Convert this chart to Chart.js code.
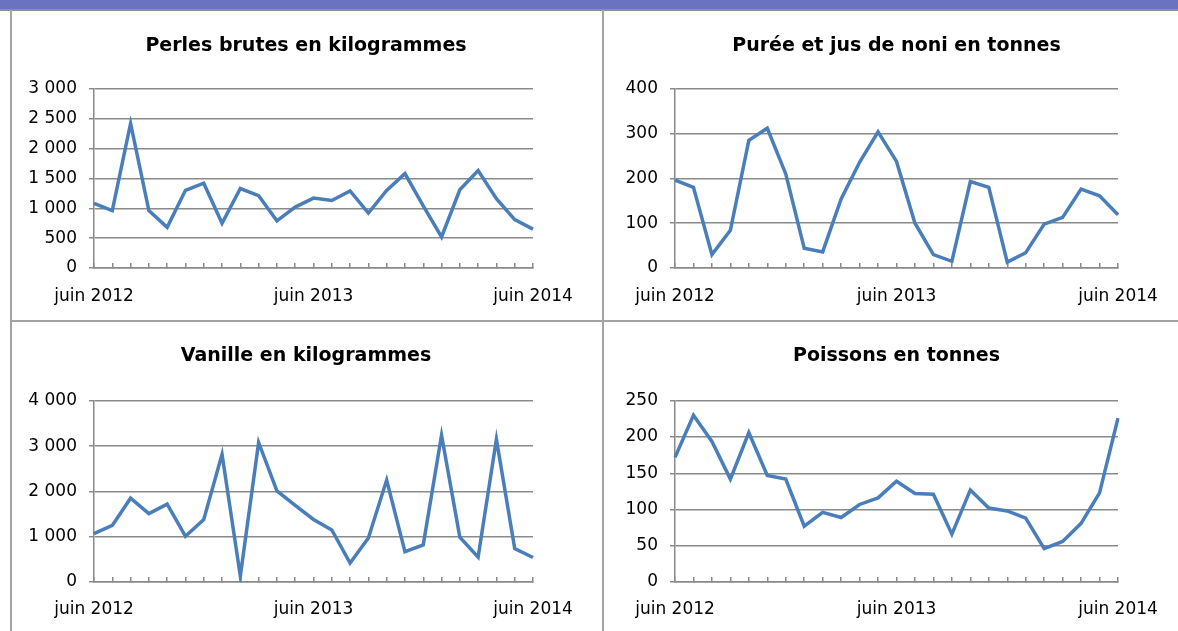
<!DOCTYPE html>
<html lang="fr">
<head>
<meta charset="UTF-8">
<title>Exportations</title>
<script src="https://cdn.jsdelivr.net/npm/chart.js"></script>
<style>
  body { margin: 0; background: #ffffff; font-family: "DejaVu Sans", sans-serif; }
  #page { position: relative; width: 1178px; height: 631px; overflow: hidden; }
  .bar { position: absolute; left: 0; top: 0; width: 1178px; height: 9px; background: #6a73c0; }
  .line { position: absolute; background: #a3a3a3; }
  canvas { position: absolute; }
</style>
</head>
<body>
<div id="page">
  <div class="bar"></div>
  <div class="line" style="left:0; top:9px; width:1178px; height:2px; background:#8f8f8f;"></div>
  <div class="line" style="left:10px; top:10px; width:2px; height:621px;"></div>
  <div class="line" style="left:602px; top:10px; width:2px; height:621px;"></div>
  <div class="line" style="left:10px; top:320px; width:1168px; height:2px;"></div>
  <canvas id="c1" width="588" height="309" style="left:12px; top:11px;"></canvas>
  <canvas id="c2" width="569" height="309" style="left:612px; top:11px;"></canvas>
  <canvas id="c3" width="588" height="308" style="left:12px; top:323px;"></canvas>
  <canvas id="c4" width="569" height="308" style="left:612px; top:323px;"></canvas>
</div>

<script>
const months = ['juin 2012', 'juil. 2012', 'août 2012', 'sept. 2012', 'oct. 2012', 'nov. 2012', 'déc. 2012',
  'janv. 2013', 'févr. 2013', 'mars 2013', 'avr. 2013', 'mai 2013', 'juin 2013', 'juil. 2013', 'août 2013',
  'sept. 2013', 'oct. 2013', 'nov. 2013', 'déc. 2013', 'janv. 2014', 'févr. 2014', 'mars 2014', 'avr. 2014',
  'mai 2014', 'juin 2014'];

const perles = [1080, 960, 2420, 960, 680, 1300, 1420, 750, 1330, 1210, 790, 1020, 1170,
  1130, 1290, 920, 1300, 1580, 1040, 520, 1310, 1630, 1160, 810, 650];
const noni = [196, 180, 30, 84, 285, 312, 210, 44, 36, 154, 236, 304, 238,
  100, 30, 15, 193, 180, 13, 34, 98, 113, 176, 161, 119];
const vanille = [1070, 1250, 1850, 1510, 1720, 1010, 1380, 2820, 130, 3080, 2010, 1690, 1380,
  1150, 420, 970, 2250, 670, 820, 3240, 990, 550, 3150, 740, 540];
const poissons = [172, 230, 194, 142, 206, 147, 142, 77, 96, 89, 107, 116, 139,
  122, 121, 66, 127, 102, 98, 88, 46, 56, 81, 123, 226];

const titles = ['Perles brutes en kilogrammes', 'Purée et jus de noni en tonnes',
  'Vanille en kilogrammes', 'Poissons en tonnes'];

function fmt(v) {
  return String(v).replace(/\B(?=(\d{3})+(?!\d))/g, ' ');
}

function makeChart(id, title, values, max, step, yWidth, xHeight, padTop, padBottom, rightWidth, labelPad) {
  const ctx = document.getElementById(id).getContext('2d');
  return new Chart(ctx, {
    type: 'line',
    data: {
      labels: months,
      datasets: [{
        data: values,
        borderColor: '#4a7ebb',
        borderWidth: 3.5,
        pointRadius: 0,
        tension: 0,
        fill: false
      }]
    },
    options: {
      responsive: false,
      animation: false,
      devicePixelRatio: 1,
      plugins: {
        legend: { display: false },
        tooltip: { enabled: false },
        title: {
          display: true,
          text: title,
          color: '#000000',
          font: { family: 'DejaVu Sans', size: 19, weight: 'bold' },
          padding: { top: padTop, bottom: padBottom }
        }
      },
      scales: {
        x: {
          offset: false,
          grid: { display: true, drawOnChartArea: false, tickLength: -5, color: '#8a8a8a', lineWidth: 1.5 },
          border: { display: true, color: '#8a8a8a', width: 1.5 },
          ticks: {
            autoSkip: false,
            maxRotation: 0,
            padding: labelPad,
            color: '#000000',
            font: { family: 'DejaVu Sans', size: 17 },
            callback: function (value) {
              const l = this.getLabelForValue(value);
              return l.indexOf('juin') === 0 ? l : '';
            }
          },
          afterFit: function (scale) { scale.height = xHeight; }
        },
        y: {
          min: 0,
          max: max,
          grid: { color: '#8a8a8a', lineWidth: 1.5, tickLength: 5 },
          border: { display: true, color: '#8a8a8a', width: 1.5 },
          ticks: {
            stepSize: step,
            padding: 12,
            color: '#000000',
            font: { family: 'DejaVu Sans', size: 17 },
            callback: function (value) { return fmt(value); }
          },
          afterFit: function (scale) { scale.width = yWidth; }
        },
        // empty right-hand space so the title stays centred on the panel
        yr: {
          position: 'right',
          grid: { display: false },
          border: { display: false },
          ticks: { display: false },
          afterFit: function (scale) { scale.width = rightWidth; }
        }
      }
    }
  });
}

makeChart('c1', titles[0], perles, 3000, 500, 82, 52, 24, 31, 67, 23);
makeChart('c2', titles[1], noni, 400, 100, 63, 52, 24, 31, 63, 23);
makeChart('c3', titles[2], vanille, 4000, 1000, 82, 49, 22, 33, 67, 22);
makeChart('c4', titles[3], poissons, 250, 50, 63, 49, 22, 33, 63, 22);
</script>
</body>
</html>
